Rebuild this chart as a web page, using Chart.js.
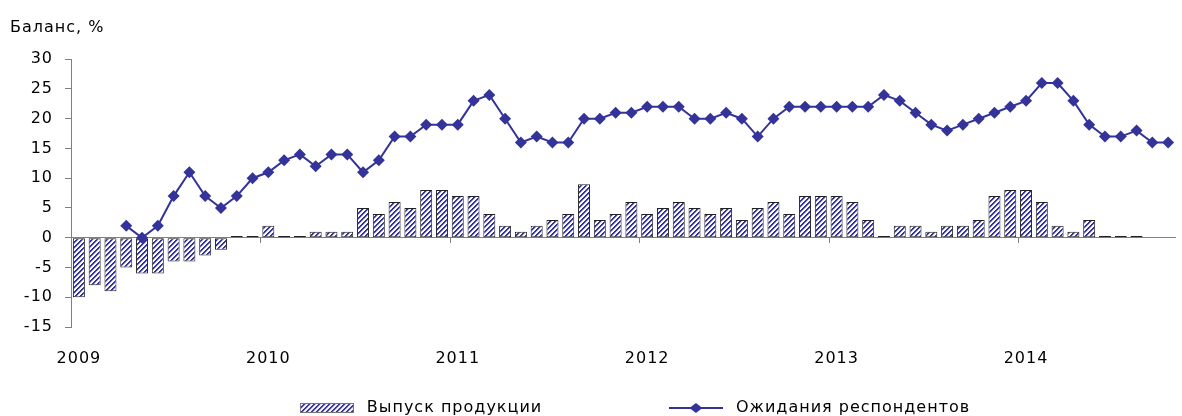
<!DOCTYPE html>
<html>
<head>
<meta charset="utf-8">
<script src="https://cdn.jsdelivr.net/npm/chart.js@4"></script>
<style>
  html, body { margin: 0; padding: 0; background: #fff; overflow: hidden; }
</style>
</head>
<body>
<canvas id="grafico" width="1182" height="416"></canvas>
<script>
const anos = ['2009', '2010', '2011', '2012', '2013', '2014'];

// помесячно, январь 2009 - октябрь 2014
const vypusk = [
    -10, -8, -9, -5, -6, -6, -4, -4, -3, -2, 0.3, 0.3,
    2, 0.3, 0.3, 1, 1, 1, 5, 4, 6, 5, 8, 8,
    7, 7, 4, 2, 1, 2, 3, 4, 9, 3, 4, 6,
    4, 5, 6, 5, 4, 5, 3, 5, 6, 4, 7, 7,
    7, 6, 3, 0.3, 2, 2, 1, 2, 2, 3, 7, 8,
    8, 6, 2, 1, 3, 0.3, 0.3, 0.3, null, null
];
const ozhidaniya = [
    null, null, null, 2, 0, 2, 7, 11, 7, 5, 7, 10,
    11, 13, 14, 12, 14, 14, 11, 13, 17, 17, 19, 19,
    19, 23, 24, 20, 16, 17, 16, 16, 20, 20, 21, 21,
    22, 22, 22, 20, 20, 21, 20, 17, 20, 22, 22, 22,
    22, 22, 22, 24, 23, 21, 19, 18, 19, 20, 21, 22,
    23, 26, 26, 23, 19, 17, 17, 18, 16, 16
];
const nomes = ['Выпуск продукции', 'Ожидания респондентов'];

const meses = anos.flatMap(a => Array.from({ length: 12 }, (_, m) => `${m + 1}.${a}`)).slice(0, vypusk.length);

const corAzul = '#333399';
const corEixo = '#808080';

function criarHachura() {
    const n = 5;
    const c = document.createElement('canvas');
    c.width = n; c.height = n;
    const g = c.getContext('2d');
    g.fillStyle = '#ffffff';
    g.fillRect(0, 0, n, n);
    for (let x = 0; x < n; x++) {
        for (let y = 0; y < n; y++) {
            const k = (x + y) % n;
            if (k === 0 || k === 1) {
                g.fillStyle = corAzul;
                g.fillRect(x, y, 1, 1);
            } else if (k === 2) {
                g.fillStyle = '#b8b8e0';
                g.fillRect(x, y, 1, 1);
            }
        }
    }
    return document.createElement('canvas').getContext('2d').createPattern(c, 'repeat');
}

const hachura = criarHachura();

function iconeBarra() {
    const c = document.createElement('canvas');
    c.width = 54; c.height = 12;
    const g = c.getContext('2d');
    g.fillStyle = hachura;
    g.fillRect(1, 2, 52, 8);
    g.strokeStyle = '#777';
    g.lineWidth = 1;
    g.strokeRect(0.5, 1.5, 53, 9);
    return c;
}

function iconeLinha() {
    const c = document.createElement('canvas');
    c.width = 54; c.height = 12;
    const g = c.getContext('2d');
    g.strokeStyle = corAzul;
    g.lineWidth = 2;
    g.beginPath();
    g.moveTo(0, 6); g.lineTo(54, 6);
    g.stroke();
    g.fillStyle = corAzul;
    g.beginPath();
    g.moveTo(27, 1); g.lineTo(33.5, 6); g.lineTo(27, 11); g.lineTo(20.5, 6);
    g.closePath();
    g.fill();
    return c;
}

const icones = [iconeBarra(), iconeLinha()];

const espacamento = {
    id: 'espacamento',
    beforeUpdate(chart) { chart.ctx.letterSpacing = '1px'; },
    beforeDraw(chart) { chart.ctx.letterSpacing = '1px'; },
    afterLayout(chart) {
        // легенда немного правее центра
        chart.legend.left += 9;
        chart.legend.right += 9;
    }
};

// marcas dos anos sobre a linha do zero
const marcasAnos = {
    id: 'marcasAnos',
    afterDatasetsDraw(chart) {
        const { ctx, scales: { x, y } } = chart;
        const y0 = Math.round(y.getPixelForValue(0));
        ctx.save();
        ctx.strokeStyle = corEixo;
        ctx.lineWidth = 1;
        ctx.beginPath();
        for (let i = 12; i < meses.length; i += 12) {
            const px = Math.round((x.getPixelForValue(i - 1) + x.getPixelForValue(i)) / 2) + 0.5;
            ctx.moveTo(px, y0);
            ctx.lineTo(px, y0 + 5);
        }
        ctx.stroke();
        ctx.restore();
    }
};

Chart.defaults.font.family = 'DejaVu Sans';
Chart.defaults.font.size = 16;
Chart.defaults.color = '#000';

const ctx = document.getElementById('grafico').getContext('2d');

new Chart(ctx, {
    type: 'bar',
    data: {
        labels: meses,
        datasets: [
            {
                type: 'bar',
                label: nomes[0],
                data: vypusk,
                backgroundColor: hachura,
                borderColor: '#222',
                borderWidth: 1,
                borderSkipped: false,
                barPercentage: 0.76,
                categoryPercentage: 1,
                order: 2
            },
            {
                type: 'line',
                label: nomes[1],
                data: ozhidaniya,
                borderColor: corAzul,
                borderWidth: 2,
                pointStyle: 'rectRot',
                pointRadius: 6,
                pointBackgroundColor: corAzul,
                pointBorderColor: corAzul,
                pointBorderWidth: 0,
                tension: 0,
                fill: false,
                order: 1
            }
        ]
    },
    options: {
        responsive: false,
        animation: false,
        layout: { padding: { left: 10, right: 0, top: 0, bottom: -10 } },
        scales: {
            x: {
                offset: true,
                grid: { display: false, drawTicks: false },
                border: { display: false },
                ticks: {
                    autoSkip: false,
                    maxRotation: 0,
                    padding: 22,
                    callback: (v, i) => (i % 12 === 0 ? anos[i / 12] : '')
                },
                afterFit: s => {
                    s.height = 73;
                    s.paddingLeft = 0;
                    s.paddingRight = 0;
                }
            },
            y: {
                min: -15,
                max: 30,
                ticks: { stepSize: 5, padding: 12 },
                grid: {
                    color: c => (c.tick.value === 0 ? corEixo : 'transparent'),
                    tickColor: corEixo,
                    tickLength: 6
                },
                border: { display: true, color: corEixo },
                afterFit: s => { s.width = 61; }
            }
        },
        plugins: {
            tooltip: { enabled: false },
            title: {
                display: true,
                text: 'Баланс, %',
                align: 'start',
                font: { size: 16, weight: 'normal' },
                padding: { top: 18, bottom: 22 }
            },
            legend: {
                position: 'bottom',
                fullSize: false,
                labels: {
                    usePointStyle: true,
                    pointStyleWidth: 64,
                    padding: 0,
                    generateLabels: chart => chart.data.datasets.map((ds, i) => ({
                        text: i === 0 ? ds.label + ' '.repeat(20) : ds.label,
                        pointStyle: icones[i],
                        fontColor: '#000',
                        fillStyle: 'transparent',
                        strokeStyle: 'transparent',
                        lineWidth: 0,
                        hidden: false,
                        datasetIndex: i
                    }))
                }
            }
        }
    },
    plugins: [espacamento, marcasAnos]
});
</script>
</body>
</html>
